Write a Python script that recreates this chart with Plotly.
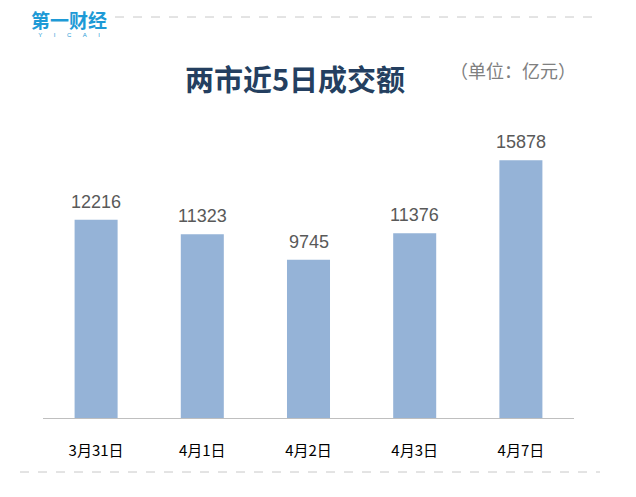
import plotly.graph_objects as go

categories = ["3月31日", "4月1日", "4月2日", "4月3日", "4月7日"]
values = [12216, 11323, 9745, 11376, 15878]
title_text = "两市近5日成交额"
unit_text = "（单位：亿元）"

# page offset (body margin) in pixels
OFF = 8
W, H = 636 - OFF, 497 - OFF
L, R, T, B = 43 - OFF, 636 - 574, 130 - OFF, 497 - 418
pw = W - L - R
ph = H - T - B


def px(x):
    return (x - OFF - L) / pw


def py(y):
    return (H - (y - OFF) - B) / ph


fig = go.Figure()
fig.add_trace(go.Bar(
    x=categories, y=values,
    marker=dict(color="#95B3D7", line=dict(width=0)),
    hoverinfo="x+y",
))

value_labels = [
    dict(x=c, y=v, xref="x", yref="y", text=str(v), showarrow=False,
         xanchor="center", yanchor="bottom", yshift=6,
         font=dict(family="Arial, Liberation Sans, sans-serif", size=18, color="#595959"))
    for c, v in zip(categories, values)
]

logo_text = ("<span style='font-size:19px;font-weight:bold'>第一财经</span><br>"
             "<span style='font-size:6px;font-family:Arial'>Y       I       C       A       I</span>")

fig.update_layout(
    width=W, height=H,
    margin=dict(l=L, r=R, t=T, b=B, pad=0),
    plot_bgcolor="white", paper_bgcolor="white",
    bargap=0.595, showlegend=False,
    xaxis=dict(showline=True, linecolor="#BFBFBF", linewidth=1, ticks="",
               ticklabelstandoff=19,
               tickfont=dict(family="Noto Sans CJK SC, sans-serif", size=15, color="#000000"),
               showgrid=False, zeroline=False),
    yaxis=dict(range=[0, 17740], visible=False, showgrid=False, zeroline=False),
    annotations=value_labels + [
        dict(x=px(295), y=py(78), xref="paper", yref="paper", text=f"<b>{title_text}</b>",
             showarrow=False, font=dict(family="Noto Sans CJK SC", size=29, color="#243F60"),
             xanchor="center", yanchor="middle"),
        dict(x=px(513), y=py(70), xref="paper", yref="paper", text=unit_text,
             showarrow=False, font=dict(family="Noto Sans CJK SC", size=18, color="#808080"),
             xanchor="center", yanchor="middle"),
        dict(x=px(69), y=py(22), xref="paper", yref="paper", text=logo_text,
             showarrow=False, font=dict(family="Noto Sans CJK SC", size=7, color="#1E9AD6"),
             xanchor="center", yanchor="middle", borderpad=0, align="center"),
    ],
    shapes=[
        dict(type="line", xref="paper", yref="paper", x0=px(115), x1=px(598), y0=py(17), y1=py(17),
             line=dict(color="#C8C8C8", width=1, dash="dash")),
        dict(type="line", xref="paper", yref="paper", x0=px(20), x1=px(600), y0=py(472), y1=py(472),
             line=dict(color="#C8C8C8", width=1, dash="dash")),
    ],
)

fig.write_html("out.html")
